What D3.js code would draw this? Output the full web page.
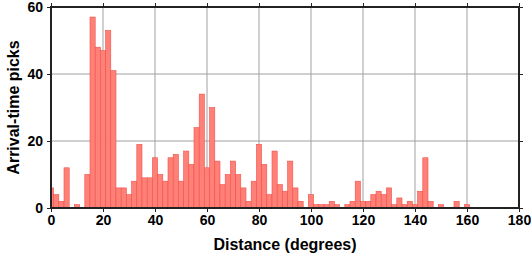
<!DOCTYPE html>
<html>
<head>
<meta charset="utf-8">
<script src="https://cdn.jsdelivr.net/npm/d3@7"></script>
<style>
  body { margin: 0; background: #fff; }
  svg text { font-family: "Liberation Sans", Arial, sans-serif; font-weight: bold; }
</style>
</head>
<body>
<svg width="531" height="258"></svg>
<script>
// bin centres (degrees), 2 degree bins
let binCenters = [0, 2, 4, 6, 8, 10, 12, 14, 16, 18, 20, 22, 24, 26, 28, 30, 32, 34, 36, 38,
    40, 42, 44, 46, 48, 50, 52, 54, 56, 58, 60, 62, 64, 66, 68, 70, 72, 74, 76, 78,
    80, 82, 84, 86, 88, 90, 92, 94, 96, 98, 100, 102, 104, 106, 108, 110, 112, 114, 116, 118,
    120, 122, 124, 126, 128, 130, 132, 134, 136, 138, 140, 142, 144, 146, 148, 150, 152, 154, 156, 158, 160]
let counts = [6, 4, 2, 12, 0, 1, 0, 10, 57, 48, 47, 53, 41, 6, 6, 4, 8, 19, 9, 9,
    15, 10, 8, 15, 16, 8, 17, 13, 24, 34, 12, 30, 14, 7, 10, 14, 10, 6, 2, 8,
    19, 13, 4, 17, 7, 5, 14, 6, 2, 0, 4, 1, 1, 1, 2, 1, 0, 1, 2, 8,
    2, 2, 4, 5, 4, 6, 1, 3, 1, 2, 1, 5, 15, 2, 0, 1, 0, 0, 2, 0, 1]
let xTicks = [0, 20, 40, 60, 80, 100, 120, 140, 160, 180]
let yTicks = [0, 20, 40, 60]

let binWidth = 2
let plotLeft = 51, plotRight = 519, plotTop = 7, plotBottom = 208

let svg = d3.select('svg')

let x = d3.scaleLinear().domain([0, 180]).range([plotLeft, plotRight])
let y = d3.scaleLinear().domain([0, 60]).range([plotBottom, plotTop])

// grid
svg.append('g')
    .selectAll('line')
    .data(xTicks.slice(1, -1))
    .enter()
    .append('line')
    .attr('x1', d => x(d)).attr('x2', d => x(d))
    .attr('y1', plotTop).attr('y2', plotBottom)
    .attr('stroke', '#a0a0a0')
    .attr('stroke-width', 1)

svg.append('g')
    .selectAll('line')
    .data(yTicks.slice(1, -1))
    .enter()
    .append('line')
    .attr('x1', plotLeft).attr('x2', plotRight)
    .attr('y1', d => y(d)).attr('y2', d => y(d))
    .attr('stroke', '#a0a0a0')
    .attr('stroke-width', 1)

svg.append('clipPath')
    .attr('id', 'plotClip')
    .append('rect')
    .attr('x', plotLeft).attr('y', plotTop)
    .attr('width', plotRight - plotLeft).attr('height', plotBottom - plotTop)

let bins = binCenters.map((c, i) => ({ c: c, n: counts[i] })).filter(d => d.n > 0)

svg.append('g')
    .attr('clip-path', 'url(#plotClip)')
    .selectAll('rect')
    .data(bins)
    .enter()
    .append('rect')
    .attr('x', d => x(d.c - binWidth / 2))
    .attr('width', d => x(d.c + binWidth / 2) - x(d.c - binWidth / 2))
    .attr('y', d => y(d.n))
    .attr('height', d => y(0) - y(d.n))
    .attr('fill', '#ff8077')
    .attr('stroke', '#f0504a')
    .attr('stroke-width', 0.6)

// axes
let xAxis = svg.append('g')
    .attr('transform', 'translate(0,' + plotBottom + ')')
    .call(d3.axisBottom(x).tickValues(xTicks).tickSize(4).tickPadding(3))
let xTop = svg.append('g')
    .attr('transform', 'translate(0,' + plotTop + ')')
    .call(d3.axisTop(x).tickValues(xTicks).tickSize(4).tickFormat(''))
let yAxis = svg.append('g')
    .attr('transform', 'translate(' + plotLeft + ',0)')
    .call(d3.axisLeft(y).tickValues(yTicks).tickSize(4).tickPadding(4))
let yRight = svg.append('g')
    .attr('transform', 'translate(' + plotRight + ',0)')
    .call(d3.axisRight(y).tickValues(yTicks).tickSize(4).tickFormat(''))

;[xAxis, xTop, yAxis, yRight].forEach(a => {
    a.select('.domain').remove()
    a.selectAll('.tick line').attr('stroke', '#222').attr('stroke-width', 1)
    a.selectAll('.tick text')
        .attr('fill', '#000')
        .style('font-size', '14px')
})

// frame
svg.append('rect')
    .attr('x', plotLeft).attr('y', plotTop)
    .attr('width', plotRight - plotLeft).attr('height', plotBottom - plotTop)
    .attr('fill', 'none')
    .attr('stroke', '#222')
    .attr('stroke-width', 2)

svg.append('text')
    .attr('x', (plotLeft + plotRight) / 2)
    .attr('y', 250)
    .attr('text-anchor', 'middle')
    .style('font-size', '16px')
    .text('Distance (degrees)')

svg.append('text')
    .attr('transform', 'translate(19,' + ((plotTop + plotBottom) / 2) + ') rotate(-90)')
    .attr('text-anchor', 'middle')
    .style('font-size', '16px')
    .text('Arrival-time picks')
</script>
</body>
</html>
